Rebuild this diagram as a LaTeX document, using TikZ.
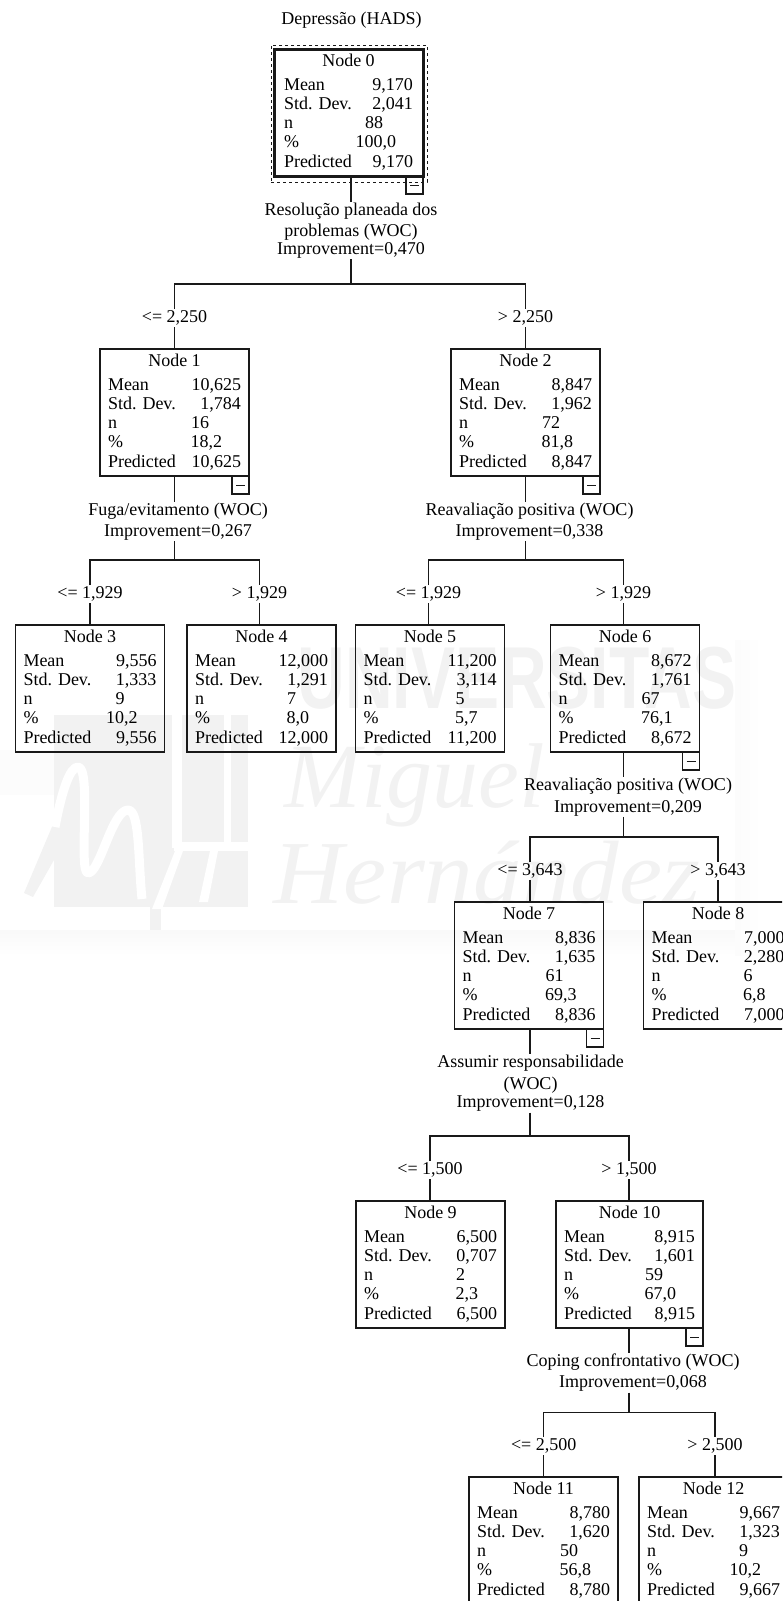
\documentclass[tikz,border=0pt]{standalone}
\usepackage{fontspec}
\setmainfont{Liberation Serif}
\newfontfamily\wmsans{Liberation Sans}
\usetikzlibrary{calc}
\definecolor{wmgrey}{gray}{0.95}
\definecolor{wmband}{gray}{0.975}
\definecolor{inkline}{gray}{0.1}
\newcommand\txtfont{\fontsize{18}{21.5}\selectfont}
\tikzset{
  x=1pt,y=-1pt,
  every node/.style={text=black,font=\txtfont,inner sep=0pt,outer sep=0pt},
  treebox/.style={draw=inkline,line width=1.05pt,rectangle,anchor=north west,minimum height=127pt},
  rootbox/.style={treebox,line width=3pt},
  focusbox/.style={draw=inkline,line width=1pt,rectangle,dash pattern=on 3pt off 3pt,minimum width=156pt,minimum height=137pt},
  collapser/.style={draw=inkline,line width=1.05pt,rectangle,anchor=north east,minimum width=17pt,minimum height=18pt,
    path picture={\draw[inkline,line width=1pt] ([xshift=4pt]path picture bounding box.west) -- ([xshift=-4pt]path picture bounding box.east);}},
  splitlabel/.style={align=center,inner ysep=1pt},
  rulelabel/.style={minimum height=18pt},
  edge/.style={draw=inkline,line width=1.05pt},
}
\def\noff{32}\def\poff{19}\def\boxpad{16}
\newcommand\rowline[3]{\hbox to \hsize{\vrule height #1pt depth 0pt width 0pt\smash{#2}\hfill\smash{#3}}}
\def\treerest#1|#2|#3{%
      \rowline{19.5}{n}{#1\hspace{\noff pt}}%
      \rowline{19}{\%}{#2\hspace{\poff pt}}%
      \rowline{19.5}{Predicted}{#3}}
\newcommand\treenode[9][133]{%
  \node[treebox,#2,minimum width=\the\numexpr #1+\boxpad\relax pt] (#3) at #4 {%
    \parbox[c][127pt][t]{#1pt}{\offinterlineskip
      \hbox to \hsize{\vrule height 17pt depth 0pt width 0pt\hfill\smash{Node #5}\hfill}%
      \rowline{24}{Mean}{#6}%
      \rowline{19}{Std. Dev.}{#7}%
      \treerest#8{#9}}};}
\newcommand\branch[5]{% name, x, ytop, text, child
  \node[rulelabel] (#1) at (#2,#3-31) {#4};
  \draw[edge] (#1.south) -- (#5.north -| #1);
}
\begin{document}
\begin{tikzpicture}
\useasboundingbox (0,0) rectangle (782,1601);
\clip (0,0) rectangle (782,1601);
% watermark
\shade[top color=wmband,bottom color=white] (0,930) rectangle (735,955);
\shade[left color=wmband!50!white,right color=white] (735,640) rectangle (762,955);
\fill[wmband!40!white] (0,750) rectangle (54,795);
\fill[wmgrey] (54,715) rectangle (248,907);
\fill[wmgrey] (150,907) rectangle (161,930);
\fill[wmgrey] (54,822) -- (54,860) -- (33,897) -- (24,893) -- cycle;
\draw[white,line width=9pt,line join=round] (55,827) .. controls (62,790) and (70,767) .. (78,767) .. controls (92,767) and (78,873) .. (88,873) .. controls (100,873) and (112,810) .. (128,810) .. controls (140,810) and (138,860) .. (142,899);
\fill[white] (172,715) rectangle (182,848);
\fill[white] (224,715) rectangle (231,848);
\fill[white] (174,842) rectangle (262,851);
\fill[white] (152,909) -- (162,909) -- (183,851) -- (175,851) -- cycle;
\fill[white] (199,902) -- (208,902) -- (218,851) -- (210,851) -- cycle;
\node[text=wmgrey,font={\wmsans\bfseries\fontsize{88}{88}\selectfont},anchor=center] (wm1) at (517,678) {\scalebox{0.75}[1]{UNIVERSITAS}};
\node[text=wmgrey,font={\itshape\fontsize{92}{92}\selectfont},anchor=center] (wm2) at (415,785) {Miguel};
\node[text=wmgrey,font={\itshape\fontsize{90}{90}\selectfont},anchor=center] (wm3) at (487,873) {\scalebox{1.08}[1]{Hernández}};
% title
\node (title) at (351.5,20) {Depressão (HADS)};
% boxes
{\def\noff{30}\def\poff{17}\def\boxpad{20}
\treenode[129]{rootbox}{n0}{(274,49)}{0}{9,170}{2,041}{88|100,0|}{9,170}
}
\treenode{}{n1}{(100,349)}{1}{10,625}{1,784}{16|18,2|}{10,625}
\treenode{}{n2}{(451,349)}{2}{8,847}{1,962}{72|81,8|}{8,847}
\treenode{}{n3}{(15.5,625)}{3}{9,556}{1,333}{9|10,2|}{9,556}
\treenode{}{n4}{(187,625)}{4}{12,000}{1,291}{7|8,0|}{12,000}
\treenode{}{n5}{(355.5,625)}{5}{11,200}{3,114}{5|5,7|}{11,200}
\treenode{}{n6}{(550.5,625)}{6}{8,672}{1,761}{67|76,1|}{8,672}
\treenode{}{n7}{(454.5,902)}{7}{8,836}{1,635}{61|69,3|}{8,836}
\treenode{}{n8}{(643.5,902)}{8}{7,000}{2,280}{6|6,8|}{7,000}
\treenode{}{n9}{(356,1201)}{9}{6,500}{0,707}{2|2,3|}{6,500}
{\def\boxpad{16}
\treenode[131]{}{n10}{(556,1201)}{10}{8,915}{1,601}{59|67,0|}{8,915}
}
\treenode{}{n11}{(469,1477)}{11}{8,780}{1,620}{50|56,8|}{8,780}
\treenode{}{n12}{(639,1477)}{12}{9,667}{1,323}{9|10,2|}{9,667}
\node[focusbox] (f0) at (349,113.5) {};
% collapse markers
\foreach \p in {n0,n1,n2,n6,n7,n10}{\node[collapser] (c\p) at (\p.south east) {};}
% split labels
\node[splitlabel] (s0) at (351,230.5) {Resolução planeada dos\\problemas (WOC)\\[-4pt]Improvement=0,470};
\node[splitlabel] (s1) at (178,521.5) {Fuga/evitamento (WOC)\\Improvement=0,267};
\node[splitlabel] (s2) at (529.5,521.5) {Reavaliação positiva (WOC)\\Improvement=0,338};
\node[splitlabel] (s6) at (628,797) {Reavaliação positiva (WOC)\\Improvement=0,209};
\node[splitlabel] (s7) at (530.5,1083.5) {Assumir responsabilidade\\(WOC)\\[-3pt]Improvement=0,128};
\node[splitlabel] (s10) at (633,1372.5) {Coping confrontativo (WOC)\\Improvement=0,068};
% junctions
\coordinate (j0) at (351,284);
\coordinate (j1) at (174.5,560);
\coordinate (j2) at (525.5,560);
\coordinate (j6) at (623.5,837);
\coordinate (j7) at (530,1136);
\coordinate (j10) at (629,1412.5);
% trunks
\foreach \pn/\spl/\jn in {n0/s0/j0,n1/s1/j1,n2/s2/j2,n6/s6/j6,n7/s7/j7,n10/s10/j10}{
  \draw[edge] (\pn.south -| \jn) -- (\spl.north -| \jn);
  \draw[edge] (\spl.south -| \jn) -- (\jn);
}
% branches
\branch{t1}{174.5}{349}{<= 2,250}{n1}
\branch{t2}{525.5}{349}{> 2,250}{n2}
\branch{t3}{90}{625}{<= 1,929}{n3}
\branch{t4}{259.5}{625}{> 1,929}{n4}
\branch{t5}{428.5}{625}{<= 1,929}{n5}
\branch{t6}{623.5}{625}{> 1,929}{n6}
\branch{t7}{530}{902}{<= 3,643}{n7}
\branch{t8}{718}{902}{> 3,643}{n8}
\branch{t9}{430}{1201}{<= 1,500}{n9}
\branch{t10}{629}{1201}{> 1,500}{n10}
\branch{t11}{543.7}{1477}{<= 2,500}{n11}
\branch{t12}{715}{1477}{> 2,500}{n12}
\draw[edge] (t1.north) |- (j0) -| (t2.north);
\draw[edge] (t3.north) |- (j1) -| (t4.north);
\draw[edge] (t5.north) |- (j2) -| (t6.north);
\draw[edge] (t7.north) |- (j6) -| (t8.north);
\draw[edge] (t9.north) |- (j7) -| (t10.north);
\draw[edge] (t11.north) |- (j10) -| (t12.north);
\end{tikzpicture}
\end{document}
